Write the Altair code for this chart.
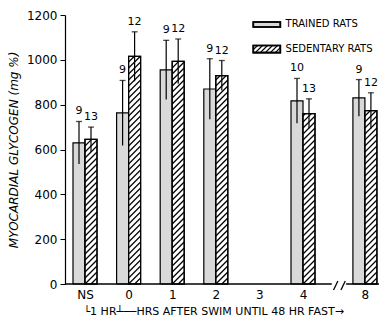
import altair as alt
import numpy as np
import pandas as pd

# ---------------- data ----------------
categories = ["NS", "0", "1", "2", "4", "8"]
cat_pos = [0, 1, 2, 3, 5, 6.42]          # x positions (gap for "3", break before "8")
tick_values = [0, 1, 2, 3, 4, 5, 6.42]
tick_labels = ["NS", "0", "1", "2", "3", "4", "8"]

trained_mean = [630, 763, 955, 870, 817, 830]
trained_err = [95, 145, 132, 135, 100, 82]
trained_n = [9, 9, 9, 9, 10, 9]

sedentary_mean = [645, 1015, 993, 930, 760, 773]
sedentary_err = [55, 110, 100, 67, 66, 80]
sedentary_n = [13, 12, 12, 12, 13, 12]

# ---------------- geometry ----------------
W, H = 314, 269
KX = 43.6                          # px per x unit
X_DOM = [-20 / KX, (W - 20) / KX]
Y_DOM = [0, 1200]
KY = H / (Y_DOM[1] - Y_DOM[0])     # px per y unit
BW = 12 / KX                       # bar width in x units

xs = alt.Scale(domain=X_DOM, nice=False, zero=False)
ys = alt.Scale(domain=Y_DOM, nice=False)

rows = []
for p, m, e, n in zip(cat_pos, trained_mean, trained_err, trained_n):
    rows.append(dict(grp="trained", x0=p - BW, x1=p, xc=p - BW / 2, v=m, lo=m - e, hi=m + e, n=str(n)))
for p, m, e, n in zip(cat_pos, sedentary_mean, sedentary_err, sedentary_n):
    rows.append(dict(grp="sedentary", x0=p, x1=p + BW, xc=p + BW / 2, v=m, lo=m - e, hi=m + e, n=str(n)))
bars = pd.DataFrame(rows)


def hatch(x0, x1, ybot, ytop, step_px=6.0):
    """'/' hatch lines at 45 degrees (pixel space) clipped to a rectangle in data units."""
    s = KX / KY
    w = x1 - x0
    step = step_px / KY
    segs = []
    b = ybot - w * s
    while b < ytop:
        xa = x0 + max(0.0, (ybot - b) / s)
        xb = x0 + min(w, (ytop - b) / s)
        if xb > xa:
            segs.append(dict(hx=xa, hy=b + (xa - x0) * s, hx2=xb, hy2=b + (xb - x0) * s))
        b += step
    return segs


hrows = []
for _, r in bars[bars.grp == "sedentary"].iterrows():
    hrows += hatch(r.x0, r.x1, 0, r.v)

# legend (placed in data space, top right)
leg_x0, leg_x1 = 3.86, 4.48
leg_tr = (1146.5, 1168.8)
leg_sd = (1032.0, 1064.0)
hrows += hatch(leg_x0, leg_x1, leg_sd[0], leg_sd[1], step_px=5.0)
hatch_df = pd.DataFrame(hrows)

legend_rects = pd.DataFrame([
    dict(x0=leg_x0, x1=leg_x1, y0=leg_tr[0], y1=leg_tr[1], fill="#d9d9d9"),
    dict(x0=leg_x0, x1=leg_x1, y0=leg_sd[0], y1=leg_sd[1], fill="#ffffff"),
])
legend_text = pd.DataFrame([
    dict(x=leg_x1 + 0.12, y=sum(leg_tr) / 2, t="TRAINED RATS"),
    dict(x=leg_x1 + 0.12, y=sum(leg_sd) / 2, t="SEDENTARY RATS"),
])

axis_segs = pd.DataFrame([
    dict(x=X_DOM[0], x2=5.66, y=0, y2=0),
    dict(x=5.99, x2=X_DOM[1], y=0, y2=0),
    dict(x=5.70, x2=5.80, y=-27, y2=13),
    dict(x=5.87, x2=5.97, y=-27, y2=13),
])

FONT = "DejaVu Sans"

base_bars = alt.Chart(bars)

label_expr = ("datum.value == 0 ? 'NS' : datum.value > 6 ? '8' : datum.value == 5 ? '4' : "
              "datum.value == 4 ? '3' : datum.value == 3 ? '2' : datum.value == 2 ? '1' : '0'")

trained_bar = base_bars.transform_filter("datum.grp == 'trained'").mark_bar(
    fill="#d9d9d9", stroke="black", strokeWidth=1.2
).encode(
    x=alt.X("x0:Q", scale=xs, axis=alt.Axis(
        values=tick_values, labelExpr=label_expr,
        domain=False, ticks=False, grid=False, labelFont=FONT, labelFontSize=12,
        labelColor="black", labelPadding=5,
        title="└1 HR┴──HRS AFTER  SWIM UNTIL 48 HR FAST→",
        titleFont=FONT, titleFontSize=11, titleFontWeight="normal", titleColor="black",
        titleAnchor="start", titleAlign="left", titleX=18, titleY=27, titleBaseline="middle",
    )),
    x2="x1:Q",
    y=alt.Y("v:Q", scale=ys, axis=alt.Axis(
        values=[0, 200, 400, 600, 800, 1000, 1200], format="d", grid=False,
        domainColor="black", domainWidth=1.2, tickColor="black", tickSize=5,
        labelFont=FONT, labelFontSize=12, labelColor="black", labelPadding=3,
        title="MYOCARDIAL  GLYCOGEN (mg %)", titleFont=FONT, titleFontSize=12,
        titleFontStyle="italic", titleFontWeight="normal", titleColor="black", titlePadding=6,
    )),
    y2=alt.Y2(datum=0),
)

sed_bar = base_bars.transform_filter("datum.grp == 'sedentary'").mark_bar(
    fill="white", stroke="black", strokeWidth=1.2
).encode(x=alt.X("x0:Q", scale=xs), x2="x1:Q", y=alt.Y("v:Q", scale=ys), y2=alt.Y2(datum=0))

leg_r = alt.Chart(legend_rects).mark_rect(stroke="black", strokeWidth=1.6).encode(
    x=alt.X("x0:Q", scale=xs), x2="x1:Q", y=alt.Y("y0:Q", scale=ys), y2="y1:Q",
    fill=alt.Fill("fill:N", scale=None),
)

hatch_layer = alt.Chart(hatch_df).mark_rule(color="black", strokeWidth=1.2).encode(
    x=alt.X("hx:Q", scale=xs), x2="hx2:Q", y=alt.Y("hy:Q", scale=ys), y2="hy2:Q"
)

sed_outline = base_bars.transform_filter("datum.grp == 'sedentary'").mark_bar(
    fill="transparent", stroke="black", strokeWidth=1.2
).encode(x=alt.X("x0:Q", scale=xs), x2="x1:Q", y=alt.Y("v:Q", scale=ys), y2=alt.Y2(datum=0))

leg_outline = alt.Chart(legend_rects).mark_rect(fill="transparent", stroke="black", strokeWidth=1.6).encode(
    x=alt.X("x0:Q", scale=xs), x2="x1:Q", y=alt.Y("y0:Q", scale=ys), y2="y1:Q",
)

err = base_bars.mark_rule(color="black", strokeWidth=1.2).encode(
    x=alt.X("xc:Q", scale=xs), y=alt.Y("lo:Q", scale=ys), y2="hi:Q"
)
caps = base_bars.mark_tick(orient="horizontal", size=6, thickness=1.3, color="black").encode(
    x=alt.X("xc:Q", scale=xs), y=alt.Y("hi:Q", scale=ys)
)
nlab = base_bars.mark_text(font=FONT, fontSize=11, baseline="bottom", dy=-5, color="black").encode(
    x=alt.X("xc:Q", scale=xs), y=alt.Y("hi:Q", scale=ys), text="n:N"
)

leg_t = alt.Chart(legend_text).mark_text(font=FONT, fontSize=10, align="left", baseline="middle",
                                          color="black").encode(
    x=alt.X("x:Q", scale=xs), y=alt.Y("y:Q", scale=ys), text="t:N"
)

axis_line = alt.Chart(axis_segs).mark_rule(color="black", strokeWidth=1.3).encode(
    x=alt.X("x:Q", scale=xs), x2="x2:Q", y=alt.Y("y:Q", scale=ys), y2="y2:Q"
)

chart = alt.layer(
    trained_bar, sed_bar, leg_r, hatch_layer, sed_outline, leg_outline, err, caps, nlab, leg_t, axis_line
).properties(
    width=W, height=H,
    autosize=alt.AutoSizeParams(type="none"),
    padding={"left": 57, "top": 7, "right": 0, "bottom": 33},
).configure_view(stroke=None)

chart.save("out.html", embed_options={"renderer": "svg", "actions": False})
